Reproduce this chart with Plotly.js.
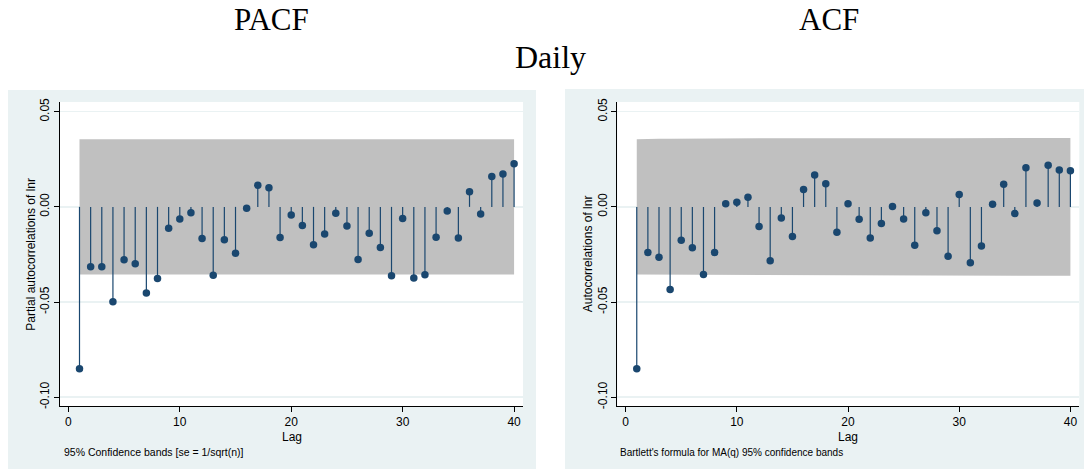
<!DOCTYPE html>
<html>
<head>
<meta charset="utf-8">
<script src="https://cdn.plot.ly/plotly-3.0.1.min.js"></script>
<style>
  html, body { margin: 0; padding: 0; background: #ffffff; }
  #chart { width: 1084px; height: 469px; }
</style>
</head>
<body>
<div id="chart"></div>
<script>
// ---- Data ----
const lags = [1,2,3,4,5,6,7,8,9,10,11,12,13,14,15,16,17,18,19,20,
              21,22,23,24,25,26,27,28,29,30,31,32,33,34,35,36,37,38,39,40];

const pacfValues = [-0.0850,-0.0315,-0.0315,-0.0498,-0.0278,-0.0299,-0.0453,-0.0376,-0.0112,-0.0063,
                    -0.0031,-0.0166,-0.0359,-0.0173,-0.0243,-0.0007, 0.0114, 0.0101,-0.0161,-0.0042,
                    -0.0098,-0.0199,-0.0143,-0.0033,-0.0100,-0.0276,-0.0138,-0.0213,-0.0362,-0.0061,
                    -0.0374,-0.0357,-0.0159,-0.0021,-0.0163, 0.0079,-0.0037, 0.0159, 0.0173, 0.0226];

const acfValues  = [-0.0850,-0.0240,-0.0264,-0.0434,-0.0175,-0.0215,-0.0355,-0.0240, 0.0016, 0.0024,
                     0.0051,-0.0103,-0.0283,-0.0059,-0.0156, 0.0091, 0.0168, 0.0121,-0.0133, 0.0016,
                    -0.0065,-0.0163,-0.0087, 0.0002,-0.0063,-0.0201,-0.0031,-0.0126,-0.0259, 0.0065,
                    -0.0294,-0.0205, 0.0014, 0.0119,-0.0035, 0.0205, 0.0021, 0.0219, 0.0194, 0.0190];

const nObs = 3040;          // sample size implied by the band width
const zCrit = 1.96;         // 95% bands

const yTickVals   = [-0.10, -0.05, 0.00, 0.05];
const yTickLabels = ["-0.10", "-0.05", "0.00", "0.05"];
const xTickVals   = [0, 10, 20, 30, 40];

const titles = { left: "PACF", right: "ACF", main: "Daily" };
const yTitles = { left: "Partial autocorrelations of lnr", right: "Autocorrelations of lnr" };
const xTitle = "Lag";
const notes = { left: "95% Confidence bands [se = 1/sqrt(n)]",
                right: "Bartlett's formula for MA(q) 95% confidence bands" };

// ---- Bands ----
const pacfBand = lags.map(() => zCrit / Math.sqrt(nObs));
const acfBand = [];
let cum = 0;
for (let i = 0; i < lags.length; i++) {
  acfBand.push(zCrit * Math.sqrt((1 + 2 * cum) / nObs));
  cum += acfValues[i] * acfValues[i];
}

// ---- Styles ----
const W = 1084, H = 469;
const navy = "#1a476f";
const panelBg = "#eaf2f3";
const bandColor = "#c0c0c0";
const sans = "Liberation Sans, Arial, sans-serif";
const serif = "Liberation Serif, Times New Roman, serif";

const px = v => v / W;
const py = v => 1 - v / H;

function bandTraces(band, xa, ya) {
  const xs = lags.concat(lags.slice().reverse());
  const ys = band.concat(band.slice().reverse().map(v => -v));
  return {
    x: xs, y: ys, xaxis: xa, yaxis: ya, type: "scatter", mode: "lines",
    fill: "toself", fillcolor: bandColor, line: { width: 0, color: bandColor },
    hoverinfo: "skip", showlegend: false
  };
}
function stemTrace(vals, xa, ya) {
  const xs = [], ys = [];
  lags.forEach((l, i) => { xs.push(l, l, null); ys.push(0, vals[i], null); });
  return {
    x: xs, y: ys, xaxis: xa, yaxis: ya, type: "scatter", mode: "lines",
    line: { color: navy, width: 1.2 }, hoverinfo: "skip", showlegend: false
  };
}
function markerTrace(vals, xa, ya) {
  return {
    x: lags, y: vals, xaxis: xa, yaxis: ya, type: "scatter", mode: "markers",
    marker: { color: navy, size: 7.5 }, showlegend: false
  };
}

const data = [
  bandTraces(pacfBand, "x", "y"),
  stemTrace(pacfValues, "x", "y"),
  markerTrace(pacfValues, "x", "y"),
  bandTraces(acfBand, "x2", "y2"),
  stemTrace(acfValues, "x2", "y2"),
  markerTrace(acfValues, "x2", "y2")
];

const plotTop = 102, plotBottom = 406;
const leftPlot = [60, 523], rightPlot = [617.3, 1079.3];

function xAxis(dom, anchor) {
  return {
    domain: [px(dom[0]), px(dom[1])], anchor: anchor,
    range: [-0.75, 40.8], tickvals: xTickVals, ticks: "outside", ticklen: 5,
    tickcolor: "#000", tickwidth: 1, showline: true, linecolor: "#000", linewidth: 1,
    showgrid: false, zeroline: false, tickfont: { family: sans, size: 12, color: "#000" },
    fixedrange: true
  };
}
function yAxis(anchor) {
  return {
    domain: [py(plotBottom), py(plotTop)], anchor: anchor,
    range: [-0.1046, 0.0551], tickvals: yTickVals, ticktext: yTickLabels, tickangle: -90,
    ticks: "outside", ticklen: 5, tickcolor: "#000", tickwidth: 1,
    showline: true, linecolor: "#000", linewidth: 1,
    showgrid: true, gridcolor: panelBg, gridwidth: 1.5, zeroline: false,
    tickfont: { family: sans, size: 12, color: "#000" }, fixedrange: true
  };
}

const layout = {
  width: W, height: H,
  margin: { l: 0, r: 0, t: 0, b: 0 },
  paper_bgcolor: "#ffffff",
  plot_bgcolor: "rgba(0,0,0,0)",
  showlegend: false,
  xaxis: xAxis(leftPlot, "y"),
  yaxis: yAxis("x"),
  xaxis2: xAxis(rightPlot, "y2"),
  yaxis2: yAxis("x2"),
  shapes: [
    { type: "rect", xref: "paper", yref: "paper", layer: "below",
      x0: px(8), x1: px(536), y0: 0, y1: py(90), fillcolor: panelBg, line: { width: 0 } },
    { type: "rect", xref: "paper", yref: "paper", layer: "below",
      x0: px(565), x1: 1, y0: 0, y1: py(89), fillcolor: panelBg, line: { width: 0 } },
    { type: "rect", xref: "paper", yref: "paper", layer: "below",
      x0: px(leftPlot[0]), x1: px(leftPlot[1]), y0: py(plotBottom), y1: py(plotTop),
      fillcolor: "#ffffff", line: { width: 0 } },
    { type: "rect", xref: "paper", yref: "paper", layer: "below",
      x0: px(rightPlot[0]), x1: px(rightPlot[1]), y0: py(plotBottom), y1: py(plotTop),
      fillcolor: "#ffffff", line: { width: 0 } }
  ],
  annotations: [
    { text: titles.left, xref: "paper", yref: "paper", x: px(271.5), y: py(20), xanchor: "center", yanchor: "middle",
      showarrow: false, font: { family: serif, size: 31, color: "#000" } },
    { text: titles.right, xref: "paper", yref: "paper", x: px(829), y: py(20), xanchor: "center", yanchor: "middle",
      showarrow: false, font: { family: serif, size: 31, color: "#000" } },
    { text: titles.main, xref: "paper", yref: "paper", x: px(550.5), y: py(57), xanchor: "center", yanchor: "middle",
      showarrow: false, font: { family: serif, size: 32, color: "#000" } },
    { text: yTitles.left, xref: "paper", yref: "paper", x: px(30.7), y: py(254), xanchor: "center", yanchor: "middle",
      textangle: -90, showarrow: false, font: { family: sans, size: 12, color: "#000" } },
    { text: yTitles.right, xref: "paper", yref: "paper", x: px(588.3), y: py(254), xanchor: "center", yanchor: "middle",
      textangle: -90, showarrow: false, font: { family: sans, size: 12, color: "#000" } },
    { text: xTitle, xref: "paper", yref: "paper", x: px(291.5), y: py(428.5), xanchor: "center", yanchor: "top",
      borderpad: 0, showarrow: false, font: { family: sans, size: 12, color: "#000" } },
    { text: xTitle, xref: "paper", yref: "paper", x: px(848.3), y: py(428.5), xanchor: "center", yanchor: "top",
      borderpad: 0, showarrow: false, font: { family: sans, size: 12, color: "#000" } },
    { text: notes.left, xref: "paper", yref: "paper", x: px(62), y: py(452), xanchor: "left", yanchor: "middle",
      showarrow: false, font: { family: sans, size: 10.5, color: "#000" } },
    { text: notes.right, xref: "paper", yref: "paper", x: px(618), y: py(452), xanchor: "left", yanchor: "middle",
      showarrow: false, font: { family: sans, size: 10, color: "#000" } }
  ]
};

Plotly.newPlot("chart", data, layout, { staticPlot: true, displayModeBar: false });
</script>
</body>
</html>
